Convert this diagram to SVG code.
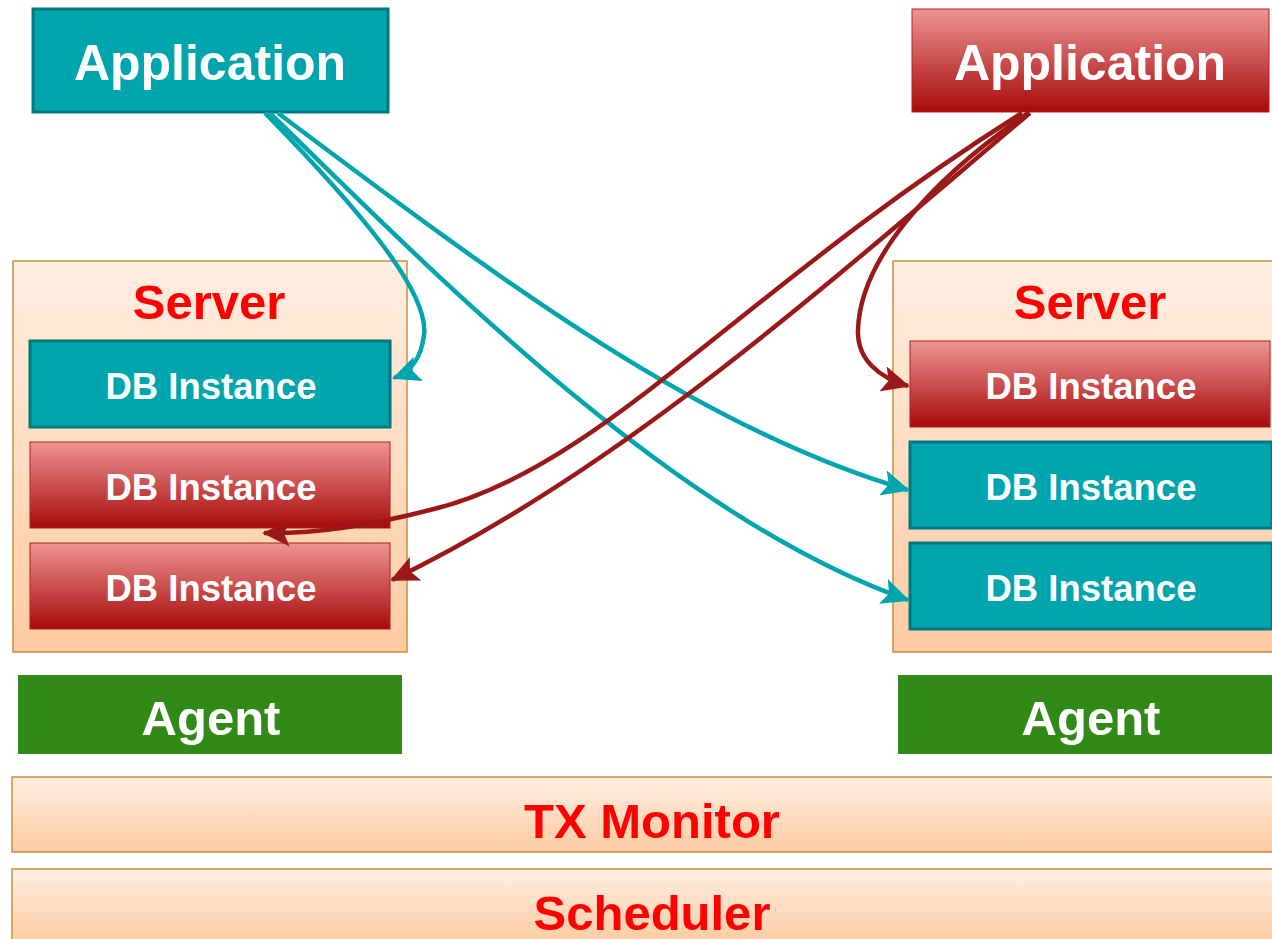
<svg xmlns="http://www.w3.org/2000/svg" width="1272" height="939" viewBox="0 0 1272 939">
<defs>
<linearGradient id="red" x1="0" y1="0" x2="0" y2="1"><stop offset="0" stop-color="#EE9494"/><stop offset="1" stop-color="#A80A0A"/></linearGradient>
<linearGradient id="peach" x1="0" y1="0" x2="0" y2="1"><stop offset="0" stop-color="#FFEEE2"/><stop offset="1" stop-color="#FDCBA2"/></linearGradient>
<marker id="ahT" markerWidth="28" markerHeight="26" refX="26" refY="13" orient="auto" markerUnits="userSpaceOnUse"><path d="M0,0 L28,13 L0,26 L6,13 Z" fill="#00A5AE"/></marker>
<marker id="ahR" markerWidth="28" markerHeight="26" refX="26" refY="13" orient="auto" markerUnits="userSpaceOnUse"><path d="M0,0 L28,13 L0,26 L6,13 Z" fill="#9B1818"/></marker>
<style>
.teal{fill:#00A5AE;stroke:#00797E;stroke-width:3}
.red{fill:url(#red);stroke:#B02020;stroke-width:1}
.peach{fill:url(#peach);stroke:#C8903E;stroke-width:1.5}
.green{fill:#318A18}
text{font-family:"Liberation Sans",Arial,sans-serif;font-weight:bold;text-anchor:middle}
.w{fill:#fff}
.rt{fill:#FF0000}
.big{font-size:49px}
.app{font-size:50px}
.db{font-size:36.5px}
.ct{fill:none;stroke:#00A5AE;stroke-width:4.5}
.cr{fill:none;stroke:#9B1818;stroke-width:4.5}
</style>
</defs>
<g id="app-left"><rect class="teal" x="33" y="9" width="355" height="103"/><text class="w app" x="210" y="80">Application</text></g>
<g id="app-right"><rect class="red" x="912" y="9" width="357" height="103"/><text class="w app" x="1090" y="80">Application</text></g>
<g id="server-left"><rect class="peach" x="13" y="261" width="394" height="391"/><text class="rt big" x="209" y="319">Server</text></g>
<g id="db-left-1"><rect class="teal" x="30" y="341" width="360" height="86"/><text class="w db" x="211" y="399">DB Instance</text></g>
<g id="db-left-2"><rect class="red" x="30" y="442" width="360" height="86"/><text class="w db" x="211" y="500">DB Instance</text></g>
<g id="db-left-3"><rect class="red" x="30" y="543" width="360" height="86"/><text class="w db" x="211" y="601">DB Instance</text></g>
<g id="server-right"><rect class="peach" x="893" y="261" width="385" height="391"/><text class="rt big" x="1090" y="319">Server</text></g>
<g id="db-right-1"><rect class="red" x="910" y="341" width="360" height="86"/><text class="w db" x="1091" y="399">DB Instance</text></g>
<g id="db-right-2"><rect class="teal" x="910" y="442" width="362" height="86"/><text class="w db" x="1091" y="500">DB Instance</text></g>
<g id="db-right-3"><rect class="teal" x="910" y="543" width="362" height="86"/><text class="w db" x="1091" y="601">DB Instance</text></g>
<g id="agent-left"><rect class="green" x="18" y="675" width="384" height="79"/><text class="w big" x="211" y="735">Agent</text></g>
<g id="agent-right"><rect class="green" x="898" y="675" width="374" height="79"/><text class="w big" x="1091" y="735">Agent</text></g>
<g id="tx-monitor"><rect class="peach" x="12" y="777" width="1262" height="75"/><text class="rt big" x="652" y="838">TX Monitor</text></g>
<g id="scheduler"><rect class="peach" x="12" y="869" width="1262" height="75"/><text class="rt big" x="652" y="930">Scheduler</text></g>
<g id="connectors">
<path class="ct" d="M265,113 C350,200 430,290 424,335 C421,360 410,372 394,378" marker-end="url(#ahT)"/>
<path class="ct" d="M270,113 C450,290 680,520 908,600" marker-end="url(#ahT)"/>
<path class="ct" d="M278,113 C500,280 700,430 908,490" marker-end="url(#ahT)"/>
<path class="cr" d="M1028,113 C930,180 860,260 858,330 C857,360 880,378 908,386" marker-end="url(#ahR)"/>
<path class="cr" d="M1022,113 C740,290 600,470 430,510 C360,528 310,534 264,533" marker-end="url(#ahR)"/>
<path class="cr" d="M1030,113 C820,290 620,470 392,580" marker-end="url(#ahR)"/>
</g>
</svg>
